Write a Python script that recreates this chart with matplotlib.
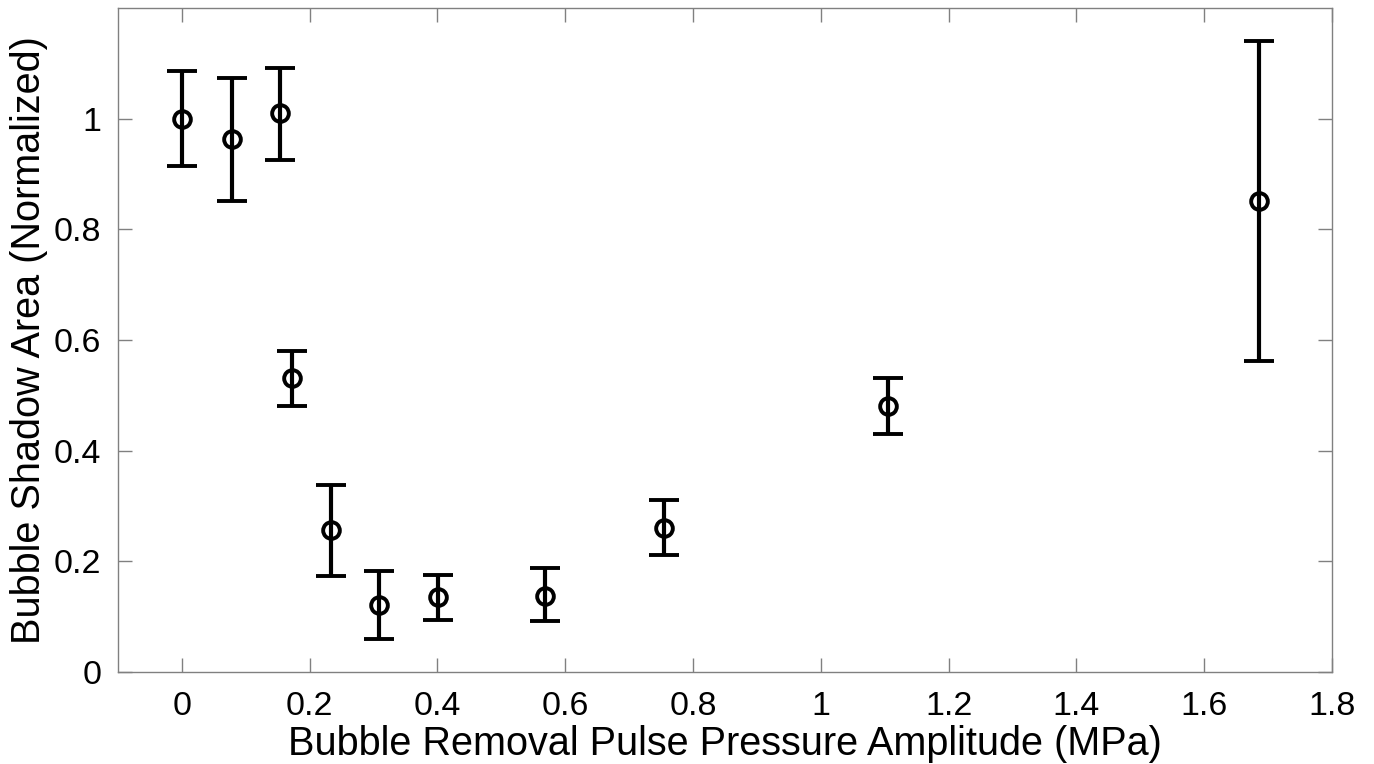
import matplotlib
matplotlib.use("Agg")
import matplotlib.pyplot as plt

pressure = [0.0, 0.078, 0.154, 0.172, 0.234, 0.309, 0.401, 0.569, 0.754, 1.105, 1.686]
area = [1.000, 0.964, 1.010, 0.532, 0.256, 0.121, 0.135, 0.137, 0.260, 0.480, 0.851]
err_upper = [1.087, 1.073, 1.092, 0.581, 0.338, 0.183, 0.176, 0.188, 0.311, 0.532, 1.140]
err_lower = [0.915, 0.852, 0.925, 0.480, 0.173, 0.059, 0.094, 0.092, 0.211, 0.430, 0.562]
xticks = [0, 0.2, 0.4, 0.6, 0.8, 1.0, 1.2, 1.4, 1.6, 1.8]
xtick_labels = ["0", "0.2", "0.4", "0.6", "0.8", "1", "1.2", "1.4", "1.6", "1.8"]
yticks = [0, 0.2, 0.4, 0.6, 0.8, 1.0]
ytick_labels = ["0", "0.2", "0.4", "0.6", "0.8", "1"]

plt.rcParams['font.family'] = ['Liberation Sans', 'DejaVu Sans']

fig = plt.figure(figsize=(13.74, 7.64), dpi=100)
ax = fig.add_axes([0.0859, 0.1204, 0.9694 - 0.0859, 0.9895 - 0.1204])

yerr = [[a - l for a, l in zip(area, err_lower)], [u - a for a, u in zip(area, err_upper)]]
ax.errorbar(pressure, area, yerr=yerr, fmt='o', color='black', ecolor='black',
            elinewidth=3, capsize=11, capthick=3, markersize=12,
            markerfacecolor='none', markeredgewidth=2.8)

ax.set_xlim(-0.1, 1.8)
ax.set_ylim(0, 1.2)
ax.set_xticks(xticks)
ax.set_xticklabels(xtick_labels)
ax.set_yticks(yticks)
ax.set_yticklabels(ytick_labels)
ax.tick_params(direction='in', top=True, right=True, length=10, width=1,
               color='#808080', labelsize=24.5)
ax.tick_params(axis='x', pad=14)
ax.tick_params(axis='y', pad=12)
for s in ax.spines.values():
    s.set_color('#808080')
    s.set_linewidth(1)

ax.set_xlabel('Bubble Removal Pulse Pressure Amplitude (MPa)', fontsize=28.5, labelpad=2)
ax.set_ylabel('Bubble Shadow Area (Normalized)', fontsize=28.5, labelpad=4)

fig.savefig('out.png', dpi=100)
